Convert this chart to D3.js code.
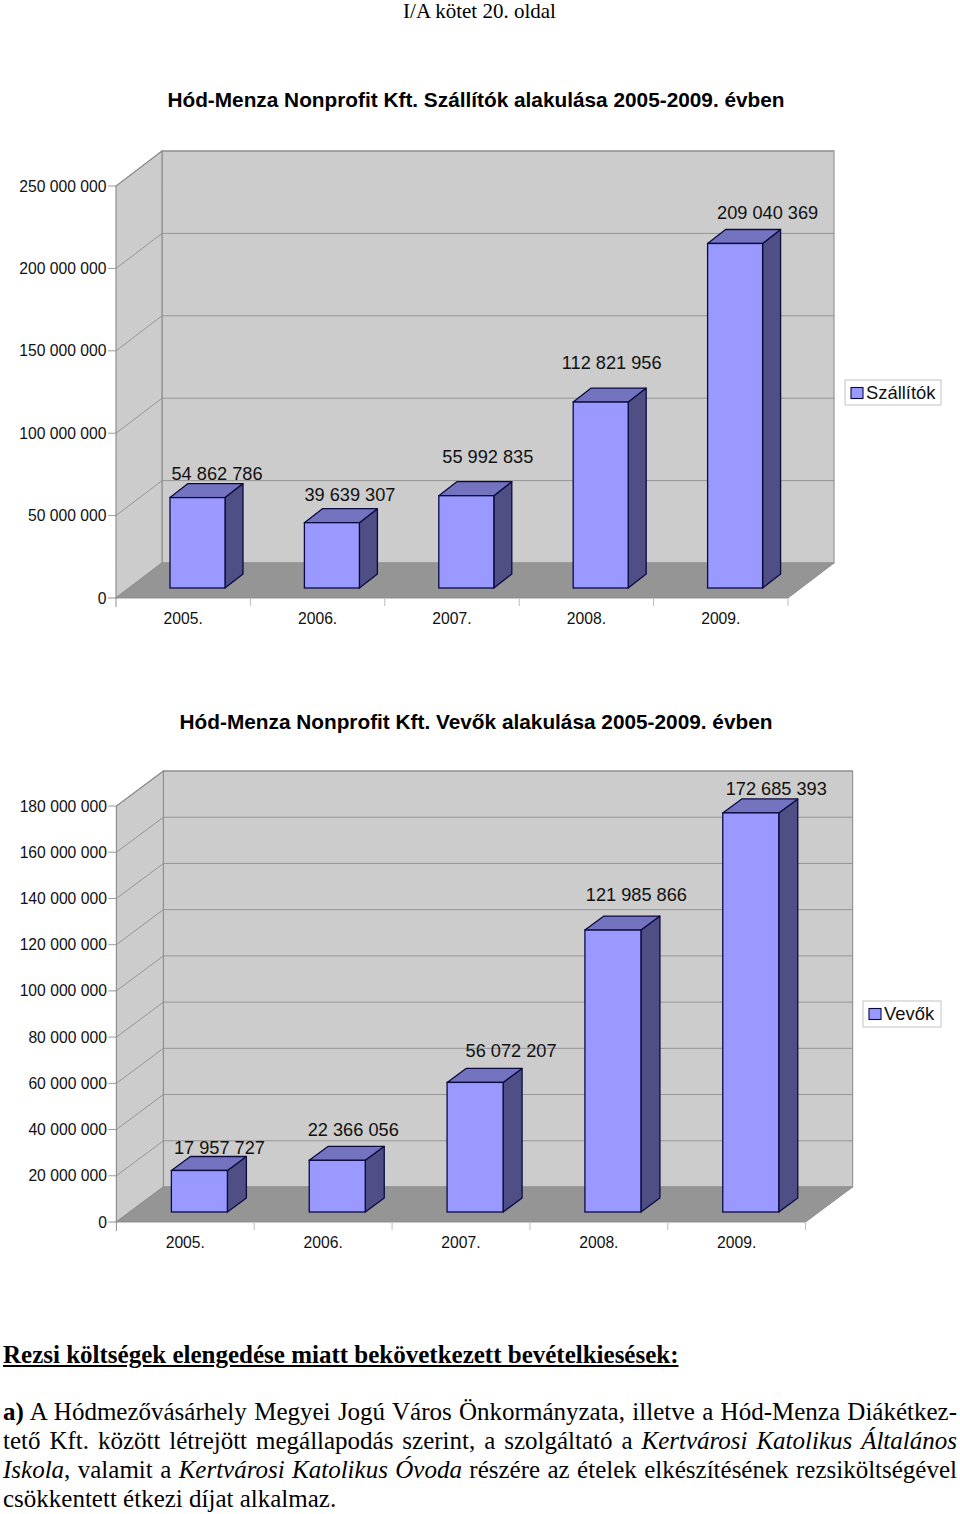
<!DOCTYPE html>
<html lang="hu"><head><meta charset="utf-8">
<script src="https://cdnjs.cloudflare.com/ajax/libs/d3/7.8.5/d3.min.js"></script>
<style>
html,body{margin:0;padding:0;background:#fff}
#root{position:relative;width:960px;height:1514px;overflow:hidden}
svg{position:absolute;left:0;top:0}
.para{position:absolute;left:3px;width:954px;font-family:"Liberation Serif",serif;font-size:25px;line-height:29px;white-space:nowrap;color:#000}
.line{text-align:justify;text-align-last:justify;height:29px;white-space:normal}
.line.last{text-align-last:left}
</style></head><body><div id="root"></div>
<script>
const years = ["2005.","2006.","2007.","2008.","2009."];
const supplierValues = [54862786,39639307,55992835,112821956,209040369];
const customerValues = [17957727,22366056,56072207,121985866,172685393];
const supplierTicks = [0,50e6,100e6,150e6,200e6,250e6];
const customerTicks = [0,20e6,40e6,60e6,80e6,100e6,120e6,140e6,160e6,180e6];
const supplierTitle = "Hód-Menza Nonprofit Kft. Szállítók alakulása 2005-2009. évben";
const customerTitle = "Hód-Menza Nonprofit Kft. Vevők alakulása 2005-2009. évben";
const supplierLabelNudges = [[19.5,24],[18,28],[21.5,39],[11,39],[32.5,31]];
const customerLabelNudges = [[20,22],[16,30],[36,31],[23.5,35],[25.5,24]];

const fmt = v => d3.format(",")(v).replace(/,/g," ");
const root = d3.select("#root");
const svg = root.append("svg").attr("width",960).attr("height",1514);

function chart(c){
  const y = d3.scaleLinear().domain([0,c.max]).range([c.y0,c.yTop]);
  const x = d3.scaleBand().domain(years).range([c.x0,c.x1]);
  const dx=c.depthX, dy=c.depthY;
  const g = svg.append("g");
  const grid="#8f8f8f";
  g.append("rect").attr("x",c.x0+dx).attr("y",c.yTop-dy).attr("width",c.x1-c.x0).attr("height",c.y0-c.yTop)
    .attr("fill","#cccccc").attr("stroke","#949494").attr("stroke-width",1.2);
  g.append("path").attr("d",`M${c.x0},${c.y0}L${c.x0},${c.yTop}L${c.x0+dx},${c.yTop-dy}L${c.x0+dx},${c.y0-dy}Z`)
    .attr("fill","#cccccc").attr("stroke","#8f8f8f").attr("stroke-width",1.2);
  g.append("path").attr("d",`M${c.x0},${c.y0}L${c.x0+dx},${c.y0-dy}L${c.x1+dx},${c.y0-dy}L${c.x1},${c.y0}Z`)
    .attr("fill","#959595").attr("stroke","#8f8f8f").attr("stroke-width",1);
  c.ticks.filter(t=>t>0).forEach(t=>{
    g.append("path").attr("d",`M${c.x0-8},${y(t)}L${c.x0},${y(t)}L${c.x0+dx},${y(t)-dy}L${c.x1+dx},${y(t)-dy}`)
      .attr("fill","none").attr("stroke",grid).attr("stroke-width",0.9);
  });
  g.append("path").attr("d",`M${c.x0-8},${c.y0}L${c.x0},${c.y0}L${c.x0},${c.y0+9}`).attr("fill","none").attr("stroke",grid);
  g.selectAll(".yl").data(c.ticks).join("text").attr("x",c.x0-9.5).attr("y",t=>y(t)+5.5).attr("text-anchor","end")
    .attr("font-family","Liberation Sans").attr("font-size",15.7).attr("fill","#111").text(fmt);
  const ticksX = years.map(d=>x(d)+x.bandwidth());
  g.selectAll(".xt").data(ticksX).join("line").attr("x1",d=>d).attr("x2",d=>d).attr("y1",c.y0).attr("y2",c.y0+8).attr("stroke","#bdbdbd");
  g.selectAll(".xl").data(years).join("text").attr("x",d=>x(d)+x.bandwidth()/2).attr("y",c.y0+25.5).attr("text-anchor","middle")
    .attr("font-family","Liberation Sans").attr("font-size",15.7).attr("fill","#111").text(d=>d);
  const bw=c.barW, bd=c.barDX, bh=c.barDY, lift=c.y0-c.barBase;
  const stroke="#0b0b40";
  const bars = g.selectAll(".bar").data(c.values.map((v,i)=>({v,i,year:years[i]}))).join("g");
  const left = d=>x(d.year)+c.barOffset;
  const top = d=>y(d.v)-lift;
  bars.append("path").attr("d",d=>`M${left(d)+bw},${c.barBase}L${left(d)+bw+bd},${c.barBase-bh}L${left(d)+bw+bd},${top(d)-bh}L${left(d)+bw},${top(d)}Z`)
    .attr("fill","#4f4f85").attr("stroke",stroke).attr("stroke-width",1.3).attr("stroke-linejoin","round");
  bars.append("path").attr("d",d=>`M${left(d)},${top(d)}L${left(d)+bd},${top(d)-bh}L${left(d)+bw+bd},${top(d)-bh}L${left(d)+bw},${top(d)}Z`)
    .attr("fill","#7373bf").attr("stroke",stroke).attr("stroke-width",1.3).attr("stroke-linejoin","round");
  bars.append("rect").attr("x",left).attr("y",top).attr("width",bw).attr("height",d=>c.barBase-top(d))
    .attr("fill","#9999ff").attr("stroke",stroke).attr("stroke-width",1.3);
  bars.append("text").attr("x",d=>left(d)+bw/2+c.labels[d.i][0]).attr("y",d=>top(d)-c.labels[d.i][1]+6)
    .attr("text-anchor","middle").attr("font-family","Liberation Sans").attr("font-size",18.2).attr("fill","#111").text(d=>fmt(d.v));
  g.append("text").attr("x",c.titleX).attr("y",c.titleY).attr("text-anchor","middle").attr("font-family","Liberation Sans")
    .attr("font-weight","bold").attr("font-size",c.titleSize).text(c.title);
  const L=c.legend;
  g.append("rect").attr("x",L.x).attr("y",L.y).attr("width",L.w).attr("height",L.h).attr("fill","#fff").attr("stroke","#c4c4c4");
  g.append("rect").attr("x",L.x+6).attr("y",L.y+7.5).attr("width",12).attr("height",11).attr("fill","#9999ff").attr("stroke",stroke).attr("stroke-width",1.1);
  g.append("text").attr("x",L.x+21).attr("y",L.y+19).attr("font-family","Liberation Sans").attr("font-size",18.4).attr("fill","#111").text(L.text);
}

chart({values:supplierValues,ticks:supplierTicks,labels:supplierLabelNudges,max:250e6,
  x0:116,x1:788,y0:598,yTop:186,depthX:46,depthY:35,barW:55,barDX:18,barDY:14,barBase:588,barOffset:54,
  title:supplierTitle,titleX:476,titleY:107,titleSize:20.8,
  legend:{x:845,y:380,w:96,h:25,text:"Szállítók"}});
chart({values:customerValues,ticks:customerTicks,labels:customerLabelNudges,max:180e6,
  x0:116.4,x1:805.6,y0:1222,yTop:806,depthX:47,depthY:35,barW:56,barDX:19,barDY:14,barBase:1212,barOffset:55,
  title:customerTitle,titleX:476,titleY:729,titleSize:20.8,
  legend:{x:863,y:1001,w:78,h:26,text:"Vevők"}});

svg.append("text").attr("x",479.5).attr("y",18).attr("text-anchor","middle").attr("font-family","Liberation Serif").attr("font-size",21).text("I/A kötet 20. oldal");

const heading = "Rezsi költségek elengedése miatt bekövetkezett bevételkiesések:";
root.append("div").attr("class","para").style("top","1340px").style("font-weight","bold").style("text-decoration","underline").text(heading);
const para = root.append("div").attr("class","para").style("top","1397px");
const lines = [
 [["b","a)"],["n"," A Hódmezővásárhely Megyei Jogú Város Önkormányzata, illetve a Hód-Menza Diákétkez-"]],
 [["n","tető Kft. között létrejött megállapodás szerint, a szolgáltató a "],["i","Kertvárosi Katolikus Általános"]],
 [["i","Iskola"],["n",", valamit a "],["i","Kertvárosi Katolikus Óvoda"],["n"," részére az ételek elkészítésének rezsiköltségével"]],
 [["n","csökkentett étkezi díjat alkalmaz."]]
];
lines.forEach((ln,i)=>{
  const d = para.append("div").attr("class","line"+(i===3?" last":""));
  ln.forEach(([k,t])=>{
    d.append("span").style("font-weight",k==="b"?"bold":null).style("font-style",k==="i"?"italic":null).text(t);
  });
});
</script></body></html>
